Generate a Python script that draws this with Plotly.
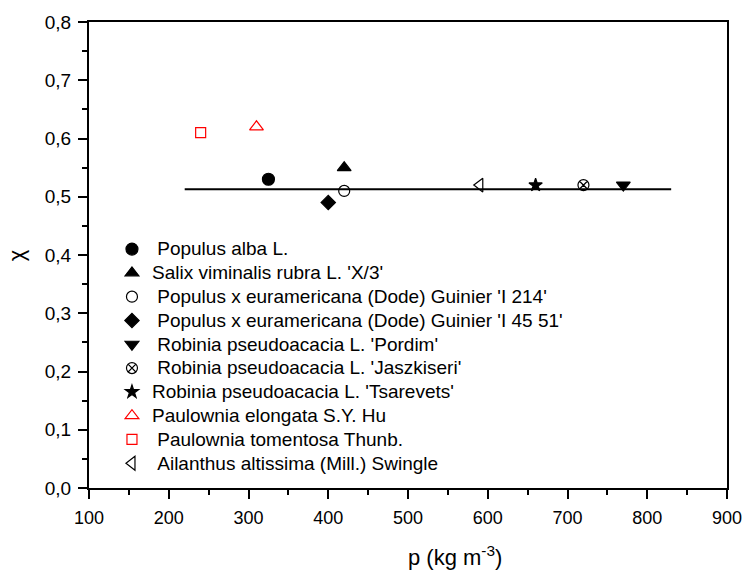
import plotly.graph_objects as go

# Wood density (kg m^-3) and chi for each species
species = [
    "\u00a0Populus alba L.",
    "Salix viminalis rubra L. 'X/3'",
    "\u00a0Populus x euramericana (Dode) Guinier 'I 214'",
    "\u00a0Populus x euramericana (Dode) Guinier 'I 45 51'",
    "\u00a0Robinia pseudoacacia L. 'Pordim'",
    "\u00a0Robinia pseudoacacia L. 'Jaszkiseri'",
    "Robinia pseudoacacia L. 'Tsarevets'",
    "Paulownia elongata S.Y. Hu",
    "\u00a0Paulownia tomentosa Thunb.",
    "\u00a0Ailanthus altissima (Mill.) Swingle",
]
density = [325, 420, 420, 400, 770, 720, 660, 310, 240, 590]
chi = [0.53, 0.55, 0.51, 0.49, 0.52, 0.52, 0.52, 0.62, 0.61, 0.52]
symbols = ["circle", "triangle-up", "circle-open", "diamond", "triangle-down",
           "circle-x-open", "star", "triangle-up-open", "square-open",
           "triangle-left-open"]
colors = ["black"] * 7 + ["red", "red", "black"]
sizes = [12, 12, 11, 11, 12, 11, 10, 12, 10, 12]

# Mean level line
line_x = [220, 830]
line_y = [0.513, 0.513]

FONT = "Liberation Sans, Arial, sans-serif"

fig = go.Figure()
fig.add_trace(go.Scatter(x=line_x, y=line_y, mode="lines",
                         line=dict(color="black", width=2), showlegend=False,
                         hoverinfo="skip"))
for name, x, y, s, c, sz in zip(species, density, chi, symbols, colors, sizes):
    fig.add_trace(go.Scatter(
        x=[x], y=[y], mode="markers",
        name=f'<span style="font-size:19px">{name}</span>',
        marker=dict(symbol=s, size=sz, color=c,
                    line=dict(color=c, width=1.2)),
    ))

axis_common = dict(
    showline=True, linecolor="black", linewidth=2, mirror=True,
    showgrid=False, zeroline=False, ticks="outside", tickcolor="black",
    tickwidth=2, ticklen=9, automargin=False, ticklabelstandoff=3,
    ticklabeloverflow="allow",
)

fig.update_layout(
    width=743, height=572,
    margin=dict(l=89, r=16, t=22, b=84),
    plot_bgcolor="white", paper_bgcolor="white",
    separators=",.",
    font=dict(family=FONT, color="black"),
    xaxis=dict(range=[100, 900], dtick=100,
               minor=dict(dtick=50, ticks="outside", ticklen=5,
                          tickwidth=1.5, tickcolor="black"),
               tickfont=dict(family=FONT, size=18, color="black"),
               **axis_common),
    yaxis=dict(range=[0, 0.8], dtick=0.1, tickformat=".1f",
               minor=dict(dtick=0.05, ticks="outside", ticklen=5,
                          tickwidth=1.5, tickcolor="black"),
               tickfont=dict(family=FONT, size=19, color="black"),
               **axis_common),
    legend=dict(x=0.036, y=0.549, xanchor="left", yanchor="top",
                bgcolor="rgba(0,0,0,0)",
                font=dict(size=16, family=FONT, color="black"),
                tracegroupgap=0),
    annotations=[
        dict(text="p (kg m<sup>-3</sup>)", xref="paper", yref="paper",
             x=0.573, y=-0.146, xanchor="center", yanchor="middle",
             showarrow=False, font=dict(size=22, family=FONT)),
        dict(text="χ", xref="paper", yref="paper", x=-0.114, y=0.5,
             xanchor="center", yanchor="middle", textangle=-90,
             showarrow=False, font=dict(size=22, family=FONT)),
    ],
)

fig.write_html("out.html")
